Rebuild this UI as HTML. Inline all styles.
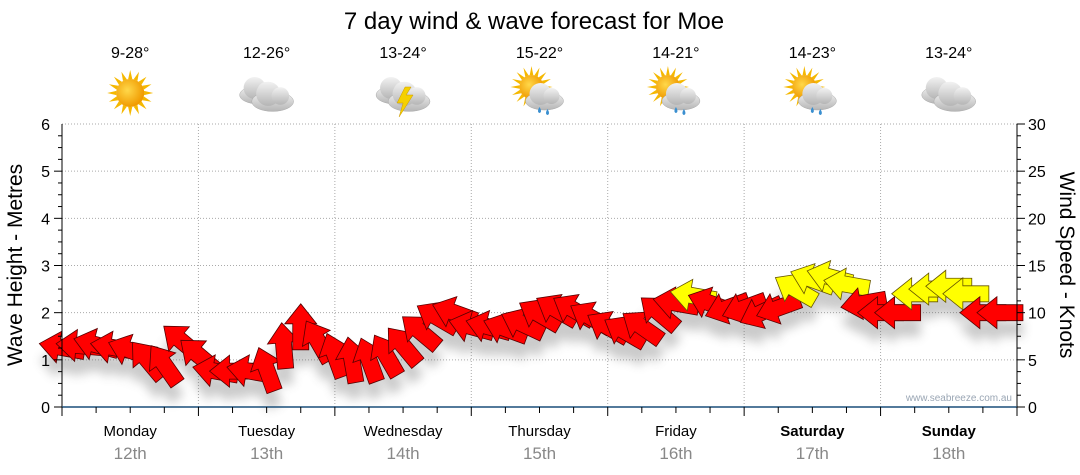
<!DOCTYPE html>
<html><head><meta charset="utf-8"><style>
body{margin:0;background:#fff;font-family:"Liberation Sans",sans-serif}
svg{display:block}
</style></head><body>
<svg id="c" width="1080" height="475" viewBox="0 0 1080 475">
<defs>
<radialGradient id="sunG" cx="0.4" cy="0.4" r="0.6"><stop offset="0" stop-color="#ffd84a"/><stop offset="1" stop-color="#f09a00"/></radialGradient>
<linearGradient id="cloudG" x1="0" y1="0" x2="0" y2="1"><stop offset="0" stop-color="#f2f2f2"/><stop offset="1" stop-color="#b5b5b5"/></linearGradient>
<filter id="sh" x="-20%" y="-20%" width="140%" height="160%"><feGaussianBlur stdDeviation="5"/></filter>
</defs>
<text x="534" y="29" text-anchor="middle" font-size="24" fill="#000">7 day wind &amp; wave forecast for Moe</text>
<g id="grid"></g><g id="icons"></g><g id="shadow" filter="url(#sh)" opacity="0.3"></g><g id="arrows"></g><g id="axes"></g>
<text x="1012" y="401" text-anchor="end" font-size="10" fill="#9aa6b4">www.seabreeze.com.au</text>
<text transform="translate(22,265) rotate(-90)" text-anchor="middle" font-size="21">Wave Height - Metres</text>
<text transform="translate(1060,265) rotate(90)" text-anchor="middle" font-size="21">Wind Speed - Knots</text>
</svg>
<script>
const days=["Monday","Tuesday","Wednesday","Thursday","Friday","Saturday","Sunday"];
const dates=["12th","13th","14th","15th","16th","17th","18th"];
const temps=["9-28°","12-26°","13-24°","15-22°","14-21°","14-23°","13-24°"];
const weather=["sun","cloud","storm","sunrain","sunrain","sunrain","cloud"];
const leftTicks=[0,1,2,3,4,5,6];
const rightTicks=[0,5,10,15,20,25,30];
// wind speed (knots), every 3 hours from Monday 00:00
const windSpeed=[6.3,6.5,6.6,6.3,6.0,5.0,4.5,7.0,
 5.5,3.8,3.8,3.8,4.0,6.5,8.5,7.0,
 5.5,5.0,5.0,5.5,6.5,8.0,9.5,10.0,
 8.5,8.5,8.3,8.8,9.8,10.3,10.3,9.5,
 8.5,8.0,8.5,10.0,11.0,11.8,11.0,10.5,
 10.5,10.0,10.5,12.5,13.5,13.8,13.0,11.0,
 10.0,10.0,12.0,12.5,12.8,12.0,10.0,10.0];
// arrow pointing angle (deg, 0 = right, 90 = up)
const windDir=[170,175,165,170,160,130,125,140,
 140,170,180,170,110,95,90,120,
 110,100,110,120,130,140,150,160,
 165,165,160,155,150,150,150,150,
 150,150,145,140,170,170,160,200,
 200,205,200,150,160,165,170,190,
 180,180,180,180,180,180,180,180];
const NS="http://www.w3.org/2000/svg";
const X0=62,X1=1017,Y0=407,Y1=124,HOURS=168;
const xS=h=>X0+(X1-X0)*h/HOURS;
const yM=m=>Y0-(Y0-Y1)*m/6;
const yK=k=>Y0-(Y0-Y1)*k/30;
function mk(tag,attrs,parent){const e=document.createElementNS(NS,tag);for(const k in attrs)e.setAttribute(k,attrs[k]);if(parent)parent.appendChild(e);return e;}
const grid=document.getElementById('grid'),axes=document.getElementById('axes'),icons=document.getElementById('icons');
leftTicks.forEach(t=>{if(t>0){const l=mk('line',{x1:X0,x2:X1,y1:yM(t),y2:yM(t),stroke:'#aaa','stroke-dasharray':'1,2'},grid);

}
const tx=mk('text',{x:50,y:yM(t)+6,'text-anchor':'end','font-size':16},axes);tx.textContent=t;


});
for(let m=0;m<6;m+=0.25){mk('line',{x1:X0-(m%1===0?8:4),x2:X0,y1:yM(m),y2:yM(m),stroke:'#000'},axes);}
rightTicks.forEach(t=>{const tx=mk('text',{x:1028,y:yK(t)+6,'font-size':16},axes);tx.textContent=t;


});
for(let k=0;k<=30;k+=1.25){mk('line',{x1:X1,x2:X1+(k%5===0?8:4),y1:yK(k),y2:yK(k),stroke:'#000'},axes);}
mk('line',{x1:X0,x2:X0,y1:Y1,y2:Y0,stroke:'#000'},axes);
mk('line',{x1:X1,x2:X1,y1:Y1,y2:Y0,stroke:'#000'},axes);
mk('line',{x1:X0,x2:X1,y1:Y0,y2:Y0,stroke:'#1a4f7a','stroke-width':1.5},axes);
for(let h=0;h<=HOURS;h+=6){mk('line',{x1:xS(h),x2:xS(h),y1:Y0,y2:Y0+(h%24===0?9:6),stroke:'#000'},axes);}
days.forEach((d,i)=>{
 const cx=xS(i*24+12);
 if(i>0){const l=mk('line',{x1:xS(i*24),x2:xS(i*24),y1:Y1,y2:Y0,stroke:'#aaa','stroke-dasharray':'1,2'},grid);
 
 }
 const t=mk('text',{x:cx,y:436,'text-anchor':'middle','font-size':15,'font-weight':i>=5?'bold':'normal'},axes);t.textContent=d;
 
 
 const t2=mk('text',{x:cx,y:459,'text-anchor':'middle','font-size':17,fill:'#888'},axes);t2.textContent=dates[i];
 
 
 const t3=mk('text',{x:cx,y:58,'text-anchor':'middle','font-size':16},icons);t3.textContent=temps[i];
 
 
 const g=mk('g',{transform:`translate(${cx},93)`},icons);
 
 
 const w=weather[i];
 if(w==='sun'||w==='sunrain'){
  const sx=w==='sun'?0:-8,sy=w==='sun'?0:-6,r=w==='sun'?14:12;
  for(let a=0;a<360;a+=22.5){const ra=a*Math.PI/180;mk('polygon',{points:`${sx+Math.cos(ra)*(r+9)},${sy+Math.sin(ra)*(r+9)} ${sx+Math.cos(ra+0.15)*r},${sy+Math.sin(ra+0.15)*r} ${sx+Math.cos(ra-0.15)*r},${sy+Math.sin(ra-0.15)*r}`,fill:'#f5b800'},g);}
  mk('circle',{cx:sx,cy:sy,r:r,fill:'url(#sunG)'},g);
 }
 if(w!=='sun'){
  const cl=(ox,oy,s)=>{mk('ellipse',{cx:ox,cy:oy+5*s,rx:19*s,ry:9*s,fill:'url(#cloudG)',stroke:'#aaa','stroke-width':0.5},g);mk('circle',{cx:ox-4*s,cy:oy-2*s,r:11*s,fill:'url(#cloudG)'},g);mk('circle',{cx:ox+7*s,cy:oy,r:8*s,fill:'url(#cloudG)'},g);};
  if(w==='sunrain'){cl(5,3,1);mk('path',{d:'M0,14 q-3,5 0,6 q3,-1 0,-6z',fill:'#3a8fd0'},g);mk('path',{d:'M8,16 q-3,5 0,6 q3,-1 0,-6z',fill:'#3a8fd0'},g);}
  else{cl(-8,-3,1);cl(6,3,1.1);}
  if(w==='storm'){mk('polygon',{points:'2,-6 -6,10 0,10 -4,24 10,2 3,2 8,-6',fill:'#f5d000',stroke:'#c90','stroke-width':0.5},g);}
 }
});
const arrows=document.getElementById('arrows'),shadow=document.getElementById('shadow');
const shape="-23,-8 3,-8 3,-16 23,0 3,16 3,8 -23,8";
windSpeed.forEach((k,i)=>{
 const x=xS(i*3),y=yK(k),rot=-windDir[i];
 mk('polygon',{points:shape,transform:`translate(${x},${y+16}) rotate(${rot})`,fill:'#555'},shadow);
 const p=mk('polygon',{points:shape,transform:`translate(${x},${y}) rotate(${rot})`,fill:k>=11.5?'#ffff00':'#ff0000',stroke:k>=11.5?'#665500':'#550000','stroke-width':0.8},arrows);
 
 
});
</script>
</body></html>
